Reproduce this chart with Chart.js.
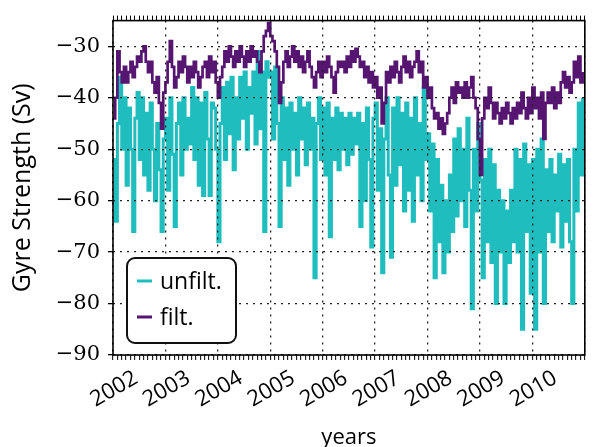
<!DOCTYPE html>
<html lang="en">
<head>
<meta charset="utf-8">
<title>Gyre Strength</title>
<script src="https://cdn.jsdelivr.net/npm/chart.js"></script>
<style>
  html, body { margin: 0; padding: 0; background: #fff; }
  #chart { display: block; }
</style>
</head>
<body>
<canvas id="chart" width="603" height="447"></canvas>
<script>
// half-monthly gyre strength (Sv), first sample at January 2002
const yearLabels = ['2002', '2003', '2004', '2005', '2006', '2007', '2008', '2009', '2010'];

const unfilt = [
  -52, -64, -45, -36, -50, -40, -57, -42, -50, -66, -44, -39, -52, -40, -55, -43, -58, -41, -50, -60, -45, -54, -66, -48,
  -44, -58, -40, -51, -65, -45, -41, -55, -40, -50, -44, -49, -38, -52, -40, -57, -41, -59, -39, -48, -59, -41, -42, -50,
  -68, -45, -38, -52, -37, -47, -36, -54, -40, -48, -36, -44, -35, -50, -38, -43, -35, -49, -31, -46, -35, -66, -33, -36,
  -35, -48, -34, -45, -65, -40, -52, -42, -57, -41, -50, -43, -55, -40, -48, -42, -53, -41, -50, -44, -75, -45, -40, -52,
  -42, -55, -41, -67, -44, -52, -42, -54, -43, -50, -44, -53, -43, -51, -44, -49, -43, -65, -45, -60, -42, -52, -69, -44,
  -41, -58, -46, -74, -48, -40, -55, -71, -42, -57, -40, -53, -43, -62, -41, -58, -44, -64, -40, -55, -45, -60, -38, -52,
  -47, -62, -49, -75, -52, -68, -57, -74, -60, -70, -55, -66, -48, -63, -46, -60, -50, -65, -44, -58, -81, -50, -62, -45,
  -56, -75, -52, -68, -50, -72, -53, -80, -58, -70, -60, -80, -62, -72, -58, -68, -50, -70, -52, -85, -49, -66, -53, -78,
  -52, -85, -50, -70, -48, -80, -54, -66, -52, -68, -55, -62, -51, -69, -53, -64, -52, -68, -80, -50, -62, -41, -55, -40
];

const filt = [
  -44, -40, -31, -35, -37, -34, -37, -35, -33, -36, -34, -32, -33, -31, -30, -33, -35, -33, -37, -39, -36, -41, -46, -39,
  -37, -33, -29, -34, -38, -36, -33, -35, -32, -34, -37, -34, -36, -33, -35, -38, -36, -34, -33, -36, -32, -35, -33, -37,
  -40, -36, -34, -31, -33, -30, -32, -34, -31, -33, -30, -32, -34, -31, -33, -30, -32, -31, -33, -35, -31, -28, -27, -25.5,
  -28, -29, -31, -34, -41, -37, -33, -31, -34, -32, -30, -33, -31, -34, -32, -35, -33, -31, -34, -36, -38, -35, -33, -36,
  -33, -35, -32, -34, -36, -39, -35, -33, -34, -33, -35, -32, -34, -31, -33, -30.5, -32, -34, -33, -36, -34, -37, -35, -38,
  -36, -40, -38, -45, -41, -35, -37, -34, -36, -33, -35, -37, -34, -32, -35, -33, -36, -34, -33, -31, -35, -33, -38, -36,
  -40, -38, -42, -44, -43, -46, -44, -47, -45, -43, -40, -38, -41, -37, -39, -38, -40, -37, -40, -38, -36, -40, -42, -48,
  -55, -44, -40, -42, -38, -41, -44, -41, -43, -45, -42, -44, -41, -43, -45, -42, -44, -41, -43, -39, -42, -44, -40, -43,
  -38, -42, -40, -44, -39, -48, -41, -39, -41, -38, -42, -39, -41, -37, -35, -38, -36, -39, -37, -33, -36, -32, -37, -35
];

// x is counted in months since Jan 2002, one sample every half month
const toPoints = arr => arr.map((v, i) => ({ x: i / 2, y: v }));
const lastMonth = unfilt.length / 2;

// plot frame around the chart area
const frame = {
  id: 'frame',
  afterDraw(chart) {
    const { ctx, chartArea: a } = chart;
    ctx.save();
    ctx.strokeStyle = '#000';
    ctx.lineWidth = 1.6;
    ctx.strokeRect(a.left, a.top, a.right - a.left, a.bottom - a.top);
    ctx.restore();
  }
};

// boxed legend in the lower left corner of the plot
const insideLegend = {
  id: 'insideLegend',
  afterDraw(chart) {
    const { ctx, chartArea: a } = chart;
    const x = a.left + 14, y = a.bottom - 97, w = 109, h = 85;
    ctx.save();
    ctx.fillStyle = '#fff';
    ctx.strokeStyle = '#111';
    ctx.lineWidth = 2;
    ctx.beginPath();
    ctx.roundRect(x, y, w, h, 8);
    ctx.fill();
    ctx.stroke();
    ctx.font = '23px "Open Sans"';
    ctx.textBaseline = 'alphabetic';
    chart.data.datasets.forEach((ds, i) => {
      const base = y + 31 + i * 36;
      ctx.strokeStyle = ds.borderColor;
      ctx.lineWidth = 3;
      ctx.beginPath();
      ctx.moveTo(x + 10, base - 8);
      ctx.lineTo(x + 25, base - 8);
      ctx.stroke();
      ctx.fillStyle = '#000';
      ctx.fillText(ds.label, x + 33, base);
    });
    ctx.restore();
  }
};

new Chart(document.getElementById('chart'), {
  type: 'line',
  data: {
    datasets: [
      {
        label: 'unfilt.',
        data: toPoints(unfilt),
        borderColor: '#1fbdbd',
        borderWidth: 3,
        stepped: true,
        pointRadius: 0,
        order: 1
      },
      {
        label: 'filt.',
        data: toPoints(filt),
        borderColor: '#561571',
        borderWidth: 2.7,
        stepped: true,
        pointRadius: 0,
        order: 0
      }
    ]
  },
  options: {
    responsive: false,
    animation: false,
    layout: { padding: { left: 0, right: 2, top: 0, bottom: 0 } },
    plugins: {
      legend: { display: false },
      tooltip: { enabled: false }
    },
    scales: {
      x: {
        type: 'linear',
        position: 'bottom',
        min: 0,
        max: lastMonth,
        afterFit: s => { s.height = 92; },
        border: { display: false, dash: [2, 5] },
        grid: {
          z: 1,
          color: c => (c.tick && c.tick.value % 12 === 0) ? '#222' : 'rgba(0,0,0,0)',
          lineWidth: 1.3,
          tickColor: '#000',
          tickLength: 5,
          tickWidth: 1,
          tickBorderDash: []
        },
        ticks: {
          stepSize: 1,
          autoSkip: false,
          includeBounds: false,
          maxRotation: 30,
          minRotation: 30,
          labelOffset: 23,
          padding: 5,
          color: '#000',
          font: { family: 'Open Sans', size: 22 },
          callback: v => v % 12 === 0 ? (yearLabels[v / 12] || '') : ''
        },
        title: {
          display: true,
          text: 'years',
          color: '#000',
          font: { family: 'Open Sans', size: 22, lineHeight: 0.85 },
          padding: { top: 0, bottom: 0 }
        }
      },
      xTop: {
        type: 'linear',
        position: 'top',
        min: 0,
        max: lastMonth,
        afterFit: s => { s.height = 17; },
        border: { display: false },
        grid: { drawOnChartArea: false, tickLength: 5, tickColor: '#000', tickWidth: 1 },
        ticks: { display: false, stepSize: 1, includeBounds: false }
      },
      y: {
        min: -90,
        max: -25,
        afterFit: s => { s.width = 113; },
        border: { display: false, dash: [2, 5] },
        grid: {
          z: 1,
          color: '#222',
          lineWidth: 1.3,
          tickColor: '#000',
          tickLength: 5,
          tickBorderDash: []
        },
        ticks: {
          stepSize: 10,
          includeBounds: false,
          padding: 8,
          color: '#000',
          font: { family: 'DejaVu Serif', size: 21 },
          callback: v => '\u2212' + Math.abs(v)
        },
        title: {
          display: true,
          text: 'Gyre Strength (Sv)',
          color: '#000',
          font: { family: 'Open Sans', size: 25 },
          padding: { top: 8, bottom: 0 }
        }
      }
    }
  },
  plugins: [frame, insideLegend]
});
</script>
</body>
</html>
